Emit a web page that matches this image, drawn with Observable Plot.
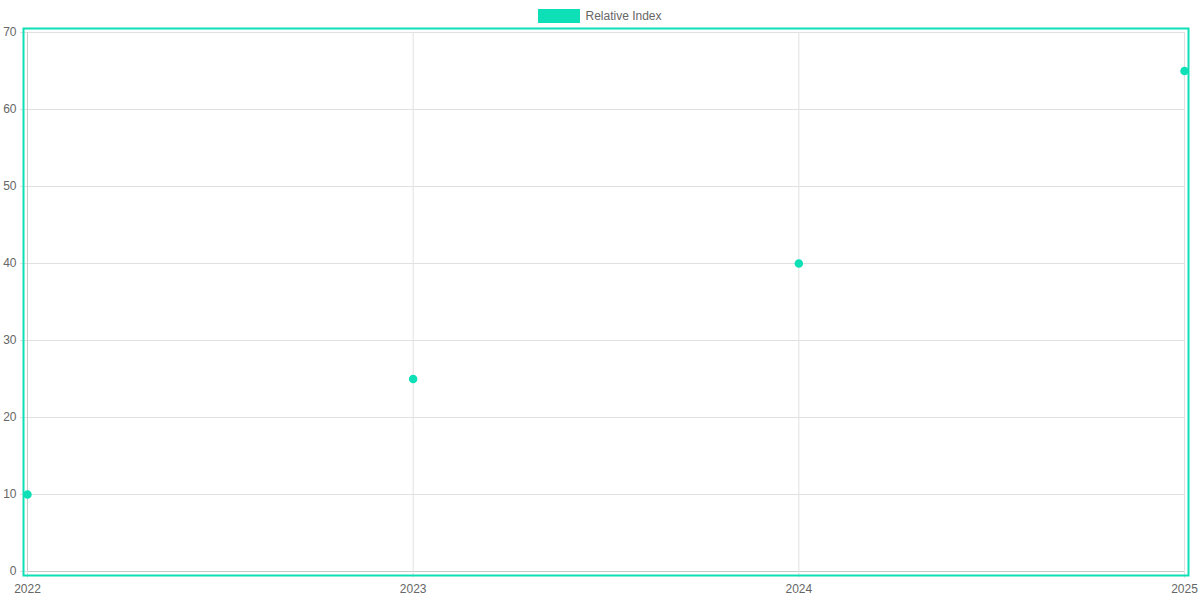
<!DOCTYPE html>
<html><head><meta charset="utf-8">
<script src="https://cdn.jsdelivr.net/npm/d3@7"></script>
<script src="https://cdn.jsdelivr.net/npm/@observablehq/plot@0.6"></script>
<style>
body{margin:0;background:#fff;font-family:"Liberation Sans",Arial,sans-serif;}
#legend{height:24px;display:flex;justify-content:center;align-items:center;font-size:12px;color:#666;padding-top:8px;box-sizing:border-box;}
#legend span.sw{display:inline-block;width:40px;height:12px;background:#0de0b6;border:1px solid #0de0b6;margin-right:5px;}
</style></head>
<body>
<div id="legend"><span class="sw"></span><span>Relative Index</span></div>
<div id="chart"></div>
<script>
const years = [2022, 2023, 2024, 2025];
const values = [10, 25, 40, 65];
const yTicks = [0, 10, 20, 30, 40, 50, 60, 70];
const seriesName = "Relative Index";
const color = "#0de0b6";

const data = years.map((y, i) => ({year: y, value: values[i]}));

const chart = Plot.plot({
  width: 1200,
  height: 576,
  marginTop: 8,
  marginBottom: 29,
  marginLeft: 27,
  marginRight: 16,
  style: {fontFamily: '"Liberation Sans", Arial, sans-serif', fontSize: "12px", color: "#666", background: "#fff"},
  x: {type: "linear", domain: [2022, 2025]},
  y: {domain: [0, 70]},
  marks: [
    Plot.gridX(years, {stroke: "#e0e0e0", strokeOpacity: 1}),
    Plot.gridY(yTicks, {stroke: "#e0e0e0", strokeOpacity: 1}),
    Plot.ruleY([0], {stroke: "#c8c8c8"}),
    Plot.ruleX([2022], {stroke: "#c8c8c8"}),
    Plot.axisX(years, {tickFormat: () => "", tickSize: 7, stroke: "#e0e0e0", label: null}),
    Plot.axisX(years, {tickFormat: d => String(d), tickSize: 0, tickPadding: 13, fill: "#666", label: null}),
    Plot.axisY(yTicks, {tickFormat: () => "", tickSize: 7, stroke: "#e0e0e0", label: null}),
    Plot.axisY(yTicks, {tickSize: 0, tickPadding: 11, fill: "#666", label: null}),
    Plot.frame({stroke: color, strokeWidth: 2, inset: -4}),
    Plot.dot(data, {x: "year", y: "value", r: 3.5, fill: color, stroke: color, title: d => `${seriesName}: ${d.value}`})
  ]
});
document.getElementById("chart").appendChild(chart);
</script>
</body></html>
